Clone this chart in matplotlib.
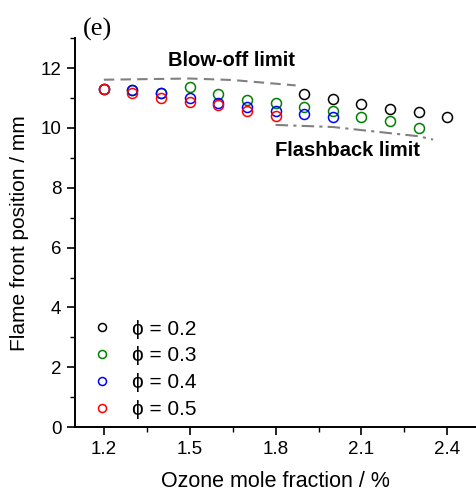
import matplotlib
matplotlib.use("Agg")
import matplotlib.pyplot as plt
from matplotlib.ticker import MultipleLocator

plt.rcParams['font.family'] = ['Liberation Sans', 'DejaVu Sans']

# Data
x_02 = [1.9, 2.0, 2.1, 2.2, 2.3, 2.4]
y_02 = [11.13, 10.97, 10.80, 10.64, 10.52, 10.35]
x_03 = [1.2, 1.3, 1.4, 1.5, 1.6, 1.7, 1.8, 1.9, 2.0, 2.1, 2.2, 2.3]
y_03 = [11.30, 11.25, 11.15, 11.35, 11.13, 10.94, 10.83, 10.70, 10.55, 10.35, 10.22, 10.00]
x_04 = [1.2, 1.3, 1.4, 1.5, 1.6, 1.7, 1.8, 1.9, 2.0]
y_04 = [11.30, 11.28, 11.17, 11.00, 10.83, 10.70, 10.58, 10.48, 10.35]
x_05 = [1.2, 1.3, 1.4, 1.5, 1.6, 1.7, 1.8]
y_05 = [11.30, 11.17, 11.00, 10.85, 10.78, 10.55, 10.39]

blow_x = [1.2, 1.5, 1.65, 1.87]
blow_y = [11.61, 11.65, 11.60, 11.42]
flash_x = [1.8, 2.0, 2.3, 2.35]
flash_y = [10.10, 10.03, 9.72, 9.61]

series = [
    (x_02, y_02, 'black', 'ϕ = 0.2'),
    (x_03, y_03, 'green', 'ϕ = 0.3'),
    (x_04, y_04, 'blue', 'ϕ = 0.4'),
    (x_05, y_05, 'red', 'ϕ = 0.5'),
]

fig = plt.figure(figsize=(4.76, 4.95), dpi=100)
ax = fig.add_axes([0.158, 0.137, 0.842, 0.786])

ax.plot(blow_x, blow_y, color='#808080', lw=1.5, ls=(0, (5, 3)))
ax.plot(flash_x, flash_y, color='#808080', lw=1.5, ls=(0, (6, 2.5, 1.5, 2.5)))

for xs, ys, c, lab in series:
    ax.plot(xs, ys, ls='none', marker='o', ms=7.2, mfc='none', mec=c, mew=1.1, label=lab)

ax.set_xlim(1.1, 2.5)
ax.set_ylim(0, 13)
ax.xaxis.set_major_locator(MultipleLocator(0.3))
ax.xaxis.set_minor_locator(MultipleLocator(0.15))
ax.yaxis.set_major_locator(MultipleLocator(2))
ax.yaxis.set_minor_locator(MultipleLocator(1))
ax.set_xticks([1.2, 1.5, 1.8, 2.1, 2.4])
ax.set_xticklabels(['1.2', '1.5', '1.8', '2.1', '2.4'])

for s in ['top', 'right']:
    ax.spines[s].set_visible(False)
for s in ['left', 'bottom']:
    ax.spines[s].set_linewidth(1.4)
ax.tick_params(which='major', direction='out', length=6, width=1.2, labelsize=13.5, pad=4)
ax.tick_params(which='minor', direction='out', length=3.5, width=1.0)

ax.set_xlabel('Ozone mole fraction / %', fontsize=15.5, labelpad=9)
ax.set_ylabel('Flame front position / mm', fontsize=15, labelpad=8)

ax.text(1.645, 12.25, 'Blow-off limit', fontsize=14.5, fontweight='bold', ha='center', va='center')
ax.text(2.05, 9.25, 'Flashback limit', fontsize=14.5, fontweight='bold', ha='center', va='center')

fig.text(0.174, 0.941, '(e)', fontsize=19, family=['Liberation Serif'], ha='left', va='center')

leg = ax.legend(loc='lower left', bbox_to_anchor=(0.0075, 0.0), frameon=False, fontsize=15,
                markerscale=0.8, handletextpad=0.69, labelspacing=0.37, borderaxespad=0.0,
                borderpad=0.4, handlelength=1.5)

fig.savefig('out.png', dpi=100)
